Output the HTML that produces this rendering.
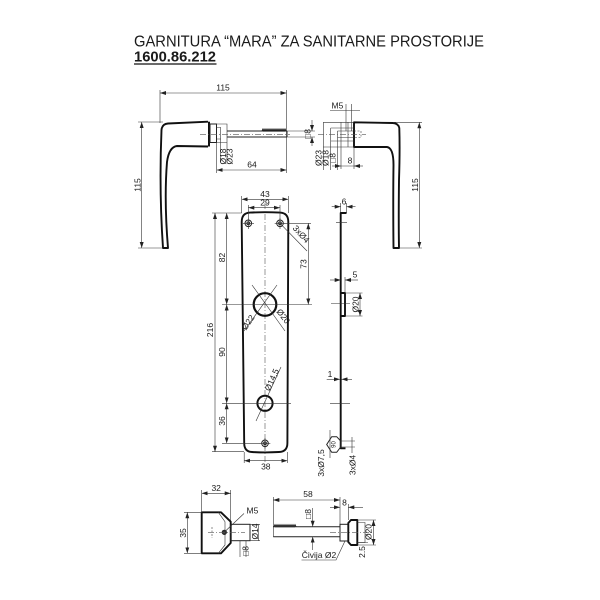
<!DOCTYPE html>
<html><head><meta charset="utf-8"><style>
html,body{margin:0;padding:0;background:#fff;}
svg{display:block;}
text{font-family:"Liberation Sans",sans-serif;fill:#1a1a1a;font-size:8.5px;}
.d{stroke:#333;stroke-width:0.6;fill:none;}
.o{stroke:#111;stroke-width:1.9;fill:none;stroke-linejoin:round;}
.m{stroke:#222;stroke-width:1;fill:none;}
.c{stroke:#555;stroke-width:0.6;fill:none;stroke-dasharray:6 2 1 2;}
.h{stroke:#444;stroke-width:0.6;fill:none;stroke-dasharray:2 1.5;}
</style></head><body>
<svg width="600" height="600" viewBox="0 0 600 600" xmlns="http://www.w3.org/2000/svg">
<defs>
<marker id="a" markerUnits="userSpaceOnUse" markerWidth="6" markerHeight="4" refX="6" refY="2" orient="auto-start-reverse"><path d="M0,0L6,2L0,4z" fill="#222"/></marker>
</defs>
<rect width="600" height="600" fill="#fff"/>

<!-- Title -->
<text x="134" y="46.7" style="font-size:16px" textLength="350" lengthAdjust="spacingAndGlyphs">GARNITURA “MARA” ZA SANITARNE PROSTORIJE</text>
<text x="134" y="61.7" style="font-size:15px;font-weight:bold" textLength="82" lengthAdjust="spacingAndGlyphs">1600.86.212</text>
<line x1="134" y1="64" x2="216.5" y2="64" stroke="#111" stroke-width="1.3"/>

<!-- ===== Top-left handle ===== -->
<path class="o" d="M208,121.7 L168,123.5 Q162,124 161.5,130 Q159,190 163,248 L168,248 Q164,200 167,162 Q169,147 177,146 L208,146.5"/>
<rect x="208" y="121.7" width="2" height="24.8" fill="#111"/>
<rect x="210" y="124" width="6.5" height="18.5" class="m"/>
<path class="d" d="M216.5,124 H227 V162 M216.5,127.5 H220.7 V162 M216.5,142.5 H227 M216.5,139 H220.7"/>
<path class="m" d="M227,131 H287 M227,137 H287 M287,131 V137"/>
<polyline class="m" points="262,131 263,129 264,131 265,129 266,131 267,129 268,131 269,129 270,131 271,129 272,131 273,129 274,131 275,129 276,131 277,129 278,131 279,129 280,131 281,129 282,131 283,129 284,131 285,129 286,131"/>
<path class="c" d="M200,134.3 H290"/>
<path class="d" d="M160,93 H286.5" marker-start="url(#a)" marker-end="url(#a)"/>
<path class="d" d="M160,90 V123 M286.5,90 V173"/>
<text x="223" y="90.5" text-anchor="middle">115</text>
<path class="d" d="M216.7,170 H286.5" marker-start="url(#a)" marker-end="url(#a)"/>
<path class="d" d="M216.7,142 V173"/>
<text x="252" y="167.5" text-anchor="middle">64</text>
<path class="d" d="M312,120 V131" marker-end="url(#a)"/>
<path class="d" d="M312,146 V137" marker-end="url(#a)"/>
<path class="d" d="M287,131 H315 M287,137 H315"/>
<text transform="translate(310.5,134) rotate(-90)" text-anchor="middle">□8</text>
<text transform="translate(226,156.5) rotate(-90)" text-anchor="middle">Ø18</text>
<text transform="translate(232.5,156.5) rotate(-90)" text-anchor="middle">Ø23</text>
<path class="d" d="M141.7,122 V248" marker-start="url(#a)" marker-end="url(#a)"/>
<path class="d" d="M138,122 H163 M138,248 H163"/>
<text transform="translate(140.3,185) rotate(-90)" text-anchor="middle">115</text>

<!-- ===== Top-right handle ===== -->
<path class="o" d="M354,122.3 L393,123 Q398.5,123.5 399.3,128 Q400,150 399,180 Q398.5,220 399,248 L393.5,248 Q393,200 393.5,165 Q393.5,148 387,147 L354,147 Z"/>
<path class="d" d="M323.3,122.3 H354 M323.3,147 H354 M323.3,122.3 V170 M330.7,128 V170 M337.5,131 V170 M330.7,128 H354 M330.7,141 H354 M337.5,131 H354 M337.5,137.5 H354 M341,122.3 V147 M348,122.3 V147"/>
<path class="h" d="M354,131 H361 V137.5 H354"/>
<path class="c" d="M318,134.3 H366"/>
<text x="331.5" y="108.5">M5</text>
<path class="d" d="M330,110.5 H360 M346,104 V131 M351.7,104 V131"/>
<path class="d" d="M332,166 H341" marker-end="url(#a)"/>
<path class="d" d="M363,166 H354" marker-end="url(#a)"/>
<path class="d" d="M341,166 H354 M341,147 V169 M354,147 V169"/>
<text x="350" y="163.5" text-anchor="middle">8</text>
<text transform="translate(321.5,158) rotate(-90)" text-anchor="middle">Ø23</text>
<text transform="translate(328.5,158) rotate(-90)" text-anchor="middle">Ø18</text>
<text transform="translate(335.5,158) rotate(-90)" text-anchor="middle">□8</text>
<path class="d" d="M419.3,122.3 V248" marker-start="url(#a)" marker-end="url(#a)"/>
<path class="d" d="M393,122.3 H422 M399,248 H422"/>
<text transform="translate(417.8,185) rotate(-90)" text-anchor="middle">115</text>

<!-- ===== Side profile ===== -->
<path class="d" d="M331.7,206.7 H340.7" marker-end="url(#a)"/>
<path class="d" d="M355.5,206.7 H346.5" marker-end="url(#a)"/>
<path class="d" d="M340.7,203 V213 M346.5,203 V213"/>
<text x="344" y="204.5" text-anchor="middle">6</text>
<path class="o" d="M346.5,213 H340.7 V448.3 H345.5"/>
<path class="o" d="M340.7,293 H345 V316 H340.7"/>
<path class="d" d="M336,222.7 H347 M331,303.5 H350 M330,403.3 H350"/>
<path class="d" d="M330,280 H340.7" marker-end="url(#a)"/>
<path class="d" d="M358,280 H345" marker-end="url(#a)"/>
<path class="d" d="M345,277 V293"/>
<text x="355" y="277.5" text-anchor="middle">5</text>
<path class="d" d="M360,293 V316" marker-start="url(#a)" marker-end="url(#a)"/>
<path class="d" d="M345,293 H362.5 M345,316 H362.5"/>
<text transform="translate(358.3,304.5) rotate(-90)" text-anchor="middle">Ø20</text>
<path class="d" d="M326.7,379.3 H340" marker-end="url(#a)"/>
<path class="d" d="M352,379.3 H341.5" marker-end="url(#a)"/>
<text x="330" y="377" text-anchor="middle">1</text>
<polygon points="331.7,436.7 336.7,436.7 340.7,441 340.7,447 336.7,452.3 331.7,452.3 326.7,444.5" class="m"/>
<path class="d" d="M340.7,441 H355 M340.7,447 H355 M330,430 V458 M352,437 V453"/>
<text transform="translate(335.5,444.5) rotate(-90)" text-anchor="middle" style="font-size:6px">90</text>
<text transform="translate(324,463) rotate(-90)" text-anchor="middle">3xØ7,5</text>
<text transform="translate(355.3,465) rotate(-90)" text-anchor="middle">3xØ4</text>

<!-- ===== Main plate ===== -->
<path class="o" d="M241.7,222 Q241.7,213 250,212.6 Q265,211.8 280,212.6 Q288.3,213 288.3,222 L287.4,443 Q287.4,451.7 279,452 Q265,452.8 252,452 Q244.2,451.7 244.2,443 Z"/>
<path class="c" d="M265,203 V462"/>
<g class="m" stroke-width="0.9">
<circle cx="248.3" cy="223.3" r="3.3"/><circle cx="248.3" cy="223.3" r="1.4"/>
<circle cx="280" cy="223.3" r="3.3"/><circle cx="280" cy="223.3" r="1.4"/>
<circle cx="265" cy="443.3" r="3.3"/><circle cx="265" cy="443.3" r="1.4"/>
</g>
<path class="d" d="M243,223.3 H254 M248.3,218 V229 M274.7,223.3 H285.3 M280,218 V229 M259.7,443.3 H270.3 M265,438 V448.6"/>
<circle cx="265" cy="304.5" r="11.3" stroke="#111" stroke-width="2.2" fill="none"/>
<circle cx="265" cy="403.3" r="7.6" stroke="#111" stroke-width="2" fill="none"/>
<path class="d" d="M252,285 L285,331 M277,285 L244,331 M256,421 L281,367 M280,223.3 L307,251"/>
<text transform="translate(250.5,324) rotate(-56)" text-anchor="middle">Ø22</text>
<text transform="translate(281,318) rotate(53)" text-anchor="middle">Ø20</text>
<text transform="translate(274.5,381) rotate(-66)" text-anchor="middle">Ø14,5</text>
<text transform="translate(299,236) rotate(48)" text-anchor="middle">3xØ4</text>
<path class="d" d="M241.7,199.3 H288.3" marker-start="url(#a)" marker-end="url(#a)"/>
<path class="d" d="M241.7,196 V213 M288.3,196 V213"/>
<text x="265" y="197" text-anchor="middle">43</text>
<path class="d" d="M248.3,207.7 H280" marker-start="url(#a)" marker-end="url(#a)"/>
<path class="d" d="M248.3,205 V220 M280,205 V220"/>
<text x="265" y="205.3" text-anchor="middle">29</text>
<path class="d" d="M215,213 V451.7" marker-start="url(#a)" marker-end="url(#a)"/>
<path class="d" d="M212,213 H241.7 M212,451.7 H244"/>
<text transform="translate(213,330) rotate(-90)" text-anchor="middle">216</text>
<path class="d" d="M226.7,213 V304.5" marker-start="url(#a)" marker-end="url(#a)"/>
<path class="d" d="M226.7,304.5 V403.3" marker-start="url(#a)" marker-end="url(#a)"/>
<path class="d" d="M226.7,403.3 V443.3" marker-start="url(#a)" marker-end="url(#a)"/>
<path class="d" d="M222,304.5 H312 M222,403.3 H291 M222,443.3 H260"/>
<text transform="translate(225,257.5) rotate(-90)" text-anchor="middle">82</text>
<text transform="translate(225,352) rotate(-90)" text-anchor="middle">90</text>
<text transform="translate(225,421) rotate(-90)" text-anchor="middle">36</text>
<path class="d" d="M308.3,223.3 V304.5" marker-start="url(#a)" marker-end="url(#a)"/>
<path class="d" d="M284,223.3 H311"/>
<text transform="translate(306.7,264) rotate(-90)" text-anchor="middle">73</text>
<path class="d" d="M244.2,460.7 H287.4" marker-start="url(#a)" marker-end="url(#a)"/>
<path class="d" d="M244.2,452 V463 M287.4,452 V463"/>
<text x="265.8" y="469.5" text-anchor="middle">38</text>

<!-- ===== Bottom-left view ===== -->
<path class="o" d="M201.7,512.3 H221 L230.7,521.7 V543 L221,553.3 H201.7 Z" stroke-width="1.6"/>
<path class="d" d="M218.3,512.3 L225,521.7 V545 L218.3,553.3"/>
<rect x="230.7" y="524.3" width="19.3" height="16.4" class="m" stroke-width="1.2"/>
<path class="d" d="M250,524.3 H260 M250,540.7 H260 M258.5,524.3 V540.7 M240,540.7 V557 M246,540.7 V557"/>
<circle cx="224.3" cy="532.3" r="2.3" fill="#333" stroke="#111" stroke-width="0.6"/>
<path class="d" d="M225.5,531 L244,513.5"/>
<text x="246.5" y="513.5">M5</text>
<path class="c" d="M208,532.3 H245"/>
<path class="h" d="M212,527 V538"/>
<text transform="translate(257.8,531.5) rotate(-90)" text-anchor="middle">Ø14</text>
<text transform="translate(248.5,551) rotate(-90)" text-anchor="middle">□8</text>
<path class="d" d="M201.7,493.3 H230.7" marker-start="url(#a)" marker-end="url(#a)"/>
<path class="d" d="M201.7,490 V512 M230.7,490 V521"/>
<text x="216.2" y="490.8" text-anchor="middle">32</text>
<path class="d" d="M187.3,512.3 V553.3" marker-start="url(#a)" marker-end="url(#a)"/>
<path class="d" d="M184,512.3 H201.7 M184,553.3 H201.7"/>
<text transform="translate(186,533) rotate(-90)" text-anchor="middle">35</text>

<!-- ===== Bottom-right view ===== -->
<path class="m" stroke-width="1.2" d="M273.3,526.7 H340 M273.3,536.7 H340"/>
<path class="d" d="M273.3,497 V536.7"/>
<polyline class="m" points="274,526.7 275,524.7 276,526.7 277,524.7 278,526.7 279,524.7 280,526.7 281,524.7 282,526.7 283,524.7 284,526.7 285,524.7 286,526.7 287,524.7 288,526.7 289,524.7 290,526.7 291,524.7 292,526.7 293,524.7 294,526.7 295,524.7 296,526.7"/>
<path class="d" d="M273.3,500 H340" marker-start="url(#a)" marker-end="url(#a)"/>
<path class="d" d="M340,497 V524"/>
<text x="308" y="497" text-anchor="middle">58</text>
<path class="d" d="M312.7,508 V526.7" marker-end="url(#a)"/>
<path class="d" d="M312.7,550 V536.7" marker-end="url(#a)"/>
<text transform="translate(311,514) rotate(-90)" text-anchor="middle">□8</text>
<rect x="340" y="524.3" width="8.3" height="16.7" class="m" stroke-width="1.2"/>
<path class="o" d="M348.3,523 L351,520 H357.3 V545 H351 L348.3,542 Z"/>
<path class="d" d="M357.3,522.5 H365 V542.5 H357.3"/>
<path class="c" d="M330,532.3 H374"/>
<path class="d" d="M330,507.3 H340" marker-end="url(#a)"/>
<path class="d" d="M363,507.3 H348.3" marker-end="url(#a)"/>
<path class="d" d="M348.3,504 V520"/>
<text x="344.5" y="505.5" text-anchor="middle">8</text>
<path class="d" d="M373.5,520 V545" marker-start="url(#a)" marker-end="url(#a)"/>
<path class="d" d="M357.3,520 H376 M357.3,545 H376 M358,542.5 H368"/>
<text transform="translate(371.7,532) rotate(-90)" text-anchor="middle">Ø20</text>
<text transform="translate(365,552) rotate(-90)" text-anchor="middle">2.5</text>
<text x="301.7" y="558">Čivija Ø2</text>
<path class="d" d="M301.5,560 H336 L345,541"/>
</svg>
</body></html>
